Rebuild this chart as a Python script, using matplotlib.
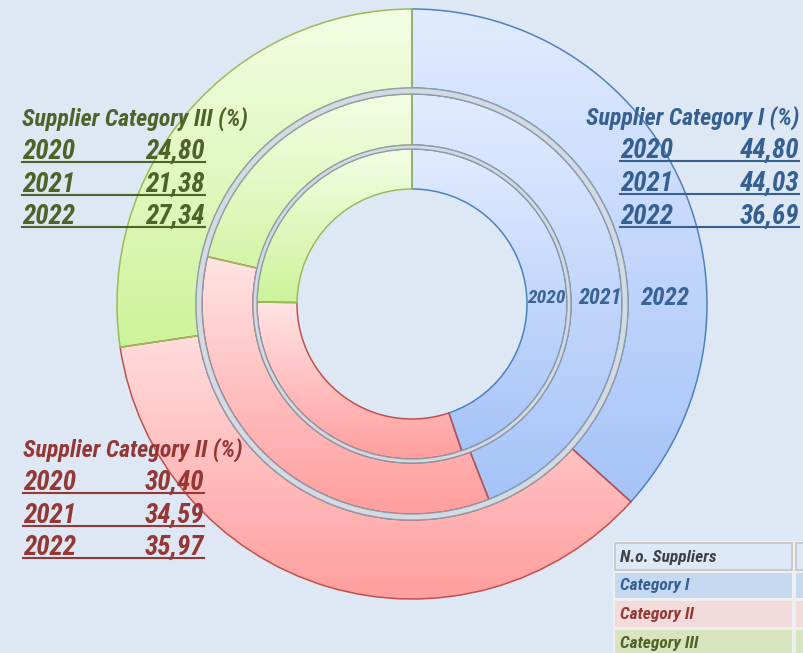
import numpy as np
import matplotlib
matplotlib.use('Agg')
import matplotlib.pyplot as plt
from matplotlib.colors import LinearSegmentedColormap
from matplotlib.patches import Rectangle, Wedge

# ---------------- data ----------------
years = ['2020', '2021', '2022']
cat1 = [44.80, 44.03, 36.69]   # Supplier Category I (%)
cat2 = [30.40, 34.59, 35.97]   # Supplier Category II (%)
cat3 = [24.80, 21.38, 27.34]   # Supplier Category III (%)
block_titles = ['Supplier Category I (%)', 'Supplier Category II (%)', 'Supplier Category III (%)']
table_header = 'N.o. Suppliers'
table_rows = ['Category I', 'Category II', 'Category III']

# ---------------- style ----------------
W, H = 804, 653
BG = '#dde8f4'
FONT = ['Roboto Condensed', 'Liberation Sans Narrow', 'Roboto', 'DejaVu Sans']
light = ['#e0ebff', '#ffe4e4', '#f3fde4']
dark = ['#a6c3f8', '#ff9d9d', '#cdf39a']
edges = ['#4f81bd', '#c0504d', '#9bbb59']
txtcol = ['#366092', '#953735', '#4f6228']

fig = plt.figure(figsize=(W / 100, H / 100), dpi=100)
fig.patch.set_facecolor(BG)
ax = fig.add_axes([0, 0, 1, 1])


def py(y):
    return H - y


cx, cy = 412, py(304)
rings = [(115, 155), (159, 210), (216, 295)]

for i, yr in enumerate(years):
    vals = [cat1[i], cat2[i], cat3[i]]
    rin, rout = rings[i]
    wedges, _ = ax.pie(vals, radius=rout, center=(cx, cy), startangle=90,
                       counterclock=False,
                       wedgeprops=dict(width=rout - rin, linewidth=1.1))
    for j, w in enumerate(wedges):
        w.set_facecolor('none')
        w.set_edgecolor(edges[j])
        w.set_zorder(4)
        v = w.get_path().vertices
        cmap = LinearSegmentedColormap.from_list('g%d%d' % (i, j), [dark[j], light[j]])
        grad = np.linspace(0, 1, 256).reshape(-1, 1)
        im = ax.imshow(grad, cmap=cmap, origin='lower', aspect='auto',
                       extent=[v[:, 0].min(), v[:, 0].max(), v[:, 1].min(), v[:, 1].max()],
                       zorder=3, interpolation='bilinear')
        im.set_clip_path(w)

# bevel gaps between rings
for r_in, r_out in [(155, 159), (210, 216)]:
    ax.add_patch(Wedge((cx, cy), r_out, 0, 360, width=r_out - r_in,
                       facecolor='#d3dae2', edgecolor='#8f9cab', linewidth=0.9, zorder=5))

# year labels inside the rings
for yr, x, fs in zip(years, [546, 600, 665], [14, 16, 18]):
    ax.text(x, py(298), yr, ha='center', va='center', fontsize=fs, color='#3a6396',
            fontweight='bold', fontstyle='italic', family=FONT, zorder=6)

# ---------------- text blocks ----------------
blocks = [
    # values, title idx, title x, title baseline, year x, value right x, row baselines, color
    (cat1, 0, 586, 125, 620, 799, [158, 191, 224], txtcol[0]),
    (cat2, 1, 23, 457, 23, 204, [490, 523, 555], txtcol[1]),
    (cat3, 2, 22, 126, 22, 205, [159, 192, 224], txtcol[2]),
]
fig.canvas.draw()
renderer = fig.canvas.get_renderer()
for vals, ti, tx, tb, yx, vx, rbs, col in blocks:
    t = ax.text(tx, py(tb), block_titles[ti], ha='left', va='baseline', fontsize=17.2,
                color=col, fontweight='bold', fontstyle='italic', family=FONT, zorder=7)
    bb = t.get_window_extent(renderer)
    ax.plot([bb.x0, bb.x1], [py(tb + 2)] * 2, color=col, lw=1.2, zorder=7)
    for yr, v, rb in zip(years, vals, rbs):
        ax.text(yx, py(rb), yr, ha='left', va='baseline', fontsize=19.5, color=col,
                fontweight='bold', fontstyle='italic', family=FONT, zorder=7)
        ax.text(vx, py(rb), ('%.2f' % v).replace('.', ','), ha='right', va='baseline',
                fontsize=19.5, color=col, fontweight='bold', fontstyle='italic',
                family=FONT, zorder=7)
        ax.plot([yx, vx], [py(rb + 2.5)] * 2, color=col, lw=1.5, zorder=7)

# ---------------- table (lower right) ----------------
ax.add_patch(Rectangle((613, py(653)), 191, 112, facecolor='#efefef', edgecolor='none', zorder=8))
cells = [(543, 570, '#dde9f7'), (573, 598, '#c5d9f1'), (601, 627, '#f2dcdb'), (630, 660, '#d7e4bd')]
for k, (y0, y1, fc) in enumerate(cells):
    ec = '#c4c4c4' if k == 0 else 'none'
    for x0, x1 in [(615, 792), (796, 810)]:
        ax.add_patch(Rectangle((x0, py(y1)), x1 - x0, y1 - y0, facecolor=fc,
                               edgecolor=ec, linewidth=1.2, zorder=9))
labels = [table_header] + table_rows
lcols = ['#404040'] + txtcol
for lab, col, b in zip(labels, lcols, [562, 590, 619, 648]):
    ax.text(620, py(b), lab, ha='left', va='baseline', fontsize=12.5, color=col,
            fontweight='bold', fontstyle='italic', family=FONT, zorder=10)

ax.set_xlim(0, W)
ax.set_ylim(0, H)
ax.set_aspect('auto')
ax.axis('off')
fig.savefig('out.png', dpi=100, facecolor=BG)
